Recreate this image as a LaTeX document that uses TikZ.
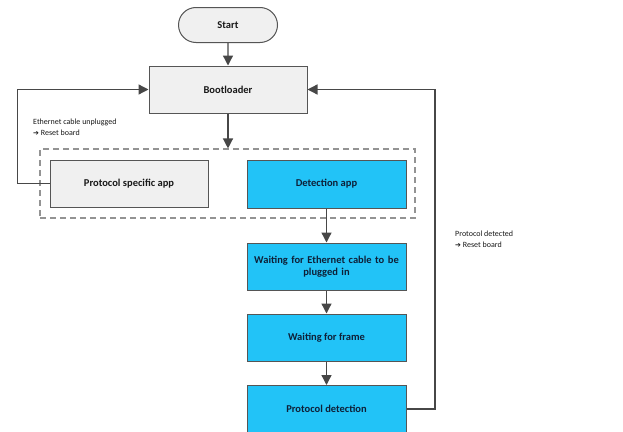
\documentclass[tikz,border=0pt]{standalone}
\usepackage{fontspec}
\setmainfont{Carlito}
\newfontfamily\symfont{DejaVu Sans}
\usetikzlibrary{arrows.meta,shapes.misc}
\definecolor{boxgray}{HTML}{F0F0F0}
\definecolor{edgegray}{HTML}{555555}
\definecolor{linegray}{HTML}{474747}
\definecolor{bluefill}{HTML}{22C3F7}
\definecolor{bluetext}{HTML}{0E2038}
\tikzset{
  graybox/.style={draw=edgegray, line width=1pt, fill=boxgray, text=black!90, font=\fontsize{10.5}{13}\selectfont\bfseries},
  bluebox/.style={draw=edgegray, line width=1pt, fill=bluefill, text=bluetext, font=\fontsize{10.5}{13}\selectfont\bfseries, align=center},
  conn/.style={draw=linegray, line width=1.3pt, -{Triangle[length=10pt,width=10pt]}},
  container/.style={draw=gray!85, line width=1.1pt, dash pattern=on 6pt off 4pt, inner sep=0pt},
  smalllabel/.style={font=\fontsize{8}{11}\selectfont, align=left, anchor=north west, inner sep=0pt, text=black!90}
}
\begin{document}
\begin{tikzpicture}[x=1pt,y=-1pt]
\useasboundingbox (0,0) rectangle (623,431);
\fill[white] (0,0) rectangle (623,431);
% dashed container
\node[container, minimum width=375pt, minimum height=69pt] (group) at (227.5,183.5) {};
% nodes
\node[graybox, rounded rectangle, minimum width=99pt, minimum height=35pt, inner sep=0pt] (start) at (228,25) {Start};
\node[graybox, minimum width=158pt, minimum height=47pt, inner sep=0pt] (boot) at (228,89.5) {Bootloader};
\node[graybox, minimum width=158pt, minimum height=47pt, inner sep=0pt] (psa) at (129,183.5) {Protocol specific app};
\node[bluebox, minimum width=159pt, minimum height=48pt, inner sep=0pt] (det) at (326.5,184) {Detection app};
\node[bluebox, minimum width=159pt, minimum height=47pt, inner sep=0pt, text width=155pt] (wec) at (326.5,266.5) {Waiting for Ethernet cable to be\\[-1pt] plugged in};
\node[bluebox, minimum width=159pt, minimum height=47pt, inner sep=0pt] (wf) at (326.5,337.5) {Waiting for frame};
\node[bluebox, minimum width=159pt, minimum height=48pt, inner sep=0pt, anchor=north] (pd) at (326.5,385) {};
\node[font=\fontsize{10.5}{13}\selectfont\bfseries, text=bluetext] (pdt) at (326.5,409) {Protocol detection};
% labels
\node[smalllabel] (lab1) at (33,119) {Ethernet cable unplugged\\{\symfont\fontsize{7}{11}\selectfont ➔} Reset board};
\node[smalllabel] (lab2) at (455,231) {Protocol detected\\{\symfont\fontsize{7}{11}\selectfont ➔} Reset board};
% connectors
\draw[conn] (start) -- (boot);
\draw[conn] (boot.south) -- (boot.south |- group.north);
\draw[conn] (det) -- (wec);
\draw[conn] (wec) -- (wf);
\draw[conn] (wf) -- (pd);
\draw[conn] (psa.west) -- ++(-32,0) |- (boot.west);
\draw[conn] (pd.east |- pdt) -- (435,409) |- (boot.east);
\end{tikzpicture}
\end{document}
